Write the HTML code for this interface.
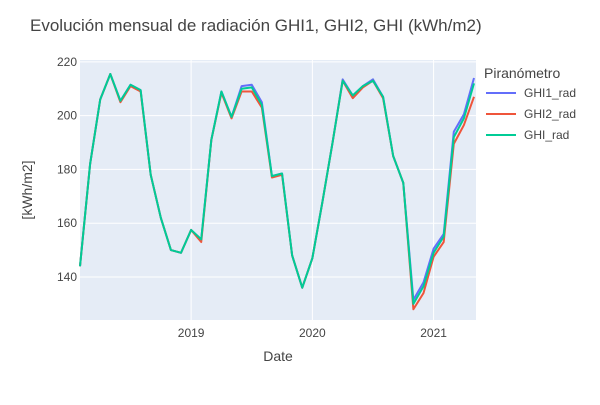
<!DOCTYPE html>
<html><head><meta charset="utf-8"><style>
body{margin:0;background:#fff;font-family:"Liberation Sans",Arial,sans-serif}
svg text{font-family:"Liberation Sans",Arial,sans-serif}
</style></head><body>
<svg id="c" width="600" height="400">
<rect width="600" height="400" fill="#fff"/>
<rect x="80" y="60" width="396" height="260" fill="#e5ecf6"/>
<g id="grid"></g><g id="lines"></g><g id="axes"></g>
<text x="30" y="31" font-size="17" fill="#444">Evolución mensual de radiación GHI1, GHI2, GHI (kWh/m2)</text>
<text x="278" y="361" font-size="14" text-anchor="middle" fill="#444">Date</text>
<text transform="translate(32,190) rotate(-90)" font-size="14" text-anchor="middle" fill="#444">[kWh/m2]</text>
<g id="legend"><text x="484" y="78" font-size="14" fill="#444">Piranómetro</text></g>
</svg>
<script>
const months=40; // Feb 2018 .. May 2021
const seriesNames=["GHI1_rad","GHI2_rad","GHI_rad"];
const ghi1=[144,182,206,215.5,205.5,211.5,209.5,178,162,150,149,157.5,154,191,209,199.5,211,211.5,205,177.5,178.5,148,136,147,168,190,213.5,207.5,211,213.5,207,185,175,131.5,138,150.5,156,194,200.5,214];
const ghi2=[144,182,206,215.5,205,211,209,178,162,150,149,157.5,153,191,208.5,199,209,209,203,177,178,148,136,147,168,190,213,206.5,210.5,213,206.5,185,175,128,134,147.5,153,189.5,196.5,207];
const ghi=[144,182,206,215.5,205.5,211.5,209.5,178,162,150,149,157.5,154,191,209,199.5,210,210.5,204,177.5,178.5,148,136,147,168,190,213,207.5,211,213,207,185,175,130,136.5,149,155,192,199,212];
const yTicks=[140,160,180,200,220];
const xTicks=["2019","2020","2021"];
const xTickIdx=[11,23,35];
const colors=["#636efa","#ef553b","#00cc96"];
const NS="http://www.w3.org/2000/svg";
const X=i=>80+i*(394/(months-1)), Y=v=>320-(v-124)*(260/96.7);
function mk(t,a,p){const e=document.createElementNS(NS,t);for(const k in a)e.setAttribute(k,a[k]);document.getElementById(p).appendChild(e);return e;}
yTicks.forEach(v=>{
 const l=mk("line",{x1:80,x2:476,y1:Y(v),y2:Y(v),stroke:"#fff","stroke-width":1},"grid");
 
 
 const t=mk("text",{x:77,y:Y(v)+4,"font-size":12,"text-anchor":"end",fill:"#444"},"axes");t.textContent=v;
 
 
});
xTicks.forEach((s,k)=>{
 const x=X(xTickIdx[k]);
 const l=mk("line",{x1:x,x2:x,y1:60,y2:320,stroke:"#fff","stroke-width":1},"grid");
 
 
 const t=mk("text",{x:x,y:337,"font-size":12,"text-anchor":"middle",fill:"#444"},"axes");t.textContent=s;
 
 
});
[ghi1,ghi2,ghi].forEach((d,s)=>{
 const p=mk("polyline",{points:d.map((v,i)=>X(i)+","+Y(v)).join(" "),fill:"none",stroke:colors[s],"stroke-width":2,"stroke-linejoin":"round"},"lines");
 
 
 const y=93+s*21;
 const l=mk("line",{x1:486,x2:516,y1:y,y2:y,stroke:colors[s],"stroke-width":2},"legend");
 
 
 const t=mk("text",{x:524,y:y+4,"font-size":12,fill:"#444"},"legend");t.textContent=seriesNames[s];
 
 
});
</script>
</body></html>
